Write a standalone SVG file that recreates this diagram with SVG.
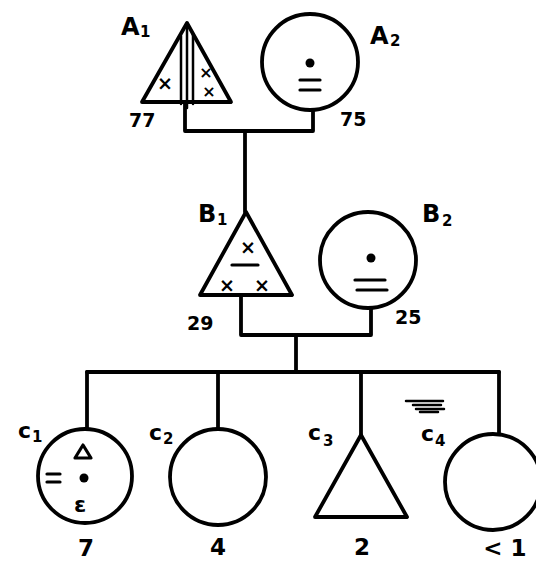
<svg xmlns="http://www.w3.org/2000/svg" width="536" height="562" viewBox="0 0 536 562">
<style>
.s{fill:none;stroke:#000;stroke-width:3.8;stroke-linejoin:round;stroke-linecap:round}
.f{fill:#fff;stroke:#000;stroke-width:3.8;stroke-linejoin:round}
.t{font-family:"DejaVu Sans","Liberation Sans",sans-serif;font-weight:bold;fill:#000}
.lab{font-size:24px}
.sub{font-size:15px}
.num{font-size:19px}
.age{font-size:23px;text-anchor:middle}
.x{font-size:19px;text-anchor:middle}
.xs{font-size:16px;text-anchor:middle}
</style>
<rect width="536" height="562" fill="#fff"/>
<g id="connectors">
<path class="s" d="M185 101 V131 H313 V110"/>
<path class="s" d="M245 131 V212"/>
<path class="s" d="M241 295 V335 H371 V308"/>
<path class="s" d="M296 335 V372"/>
<path class="s" d="M87 372 H499"/>
<path class="s" d="M87 372 V429"/>
<path class="s" d="M218 372 V430"/>
<path class="s" d="M361 372 V435"/>
<path class="s" d="M499 372 V435"/>
</g>
<g id="A1">
<path class="f" d="M187 23 L231 102 L142 102 Z"/>
<path class="s" d="M181 36 V104 M187 24 V108 M193 34 V104" style="stroke-width:2.5"/>
<text class="t x" x="165" y="90">×</text>
<text class="t xs" x="206" y="78">×</text>
<text class="t xs" x="209" y="97">×</text>
<text class="t lab" x="121" y="35">A</text><text class="t sub" x="140" y="37">1</text>
<text class="t num" x="129" y="127">77</text>
</g>
<g id="A2">
<circle class="f" cx="310" cy="62" r="48"/>
<circle cx="310" cy="63" r="4.5"/>
<path class="s" d="M300 80 H320 M300 90 H320" style="stroke-width:3.2"/>
<text class="t lab" x="370" y="44">A</text><text class="t sub" x="390" y="46">2</text>
<text class="t num" x="340" y="126">75</text>
</g>
<g id="B1">
<path class="f" d="M246 212 L292 295 L200 295 Z"/>
<text class="t x" x="248" y="254">×</text>
<path class="s" d="M232 265 H258" style="stroke-width:3.2"/>
<text class="t x" x="227" y="292">×</text>
<text class="t x" x="262" y="292">×</text>
<text class="t lab" x="198" y="222">B</text><text class="t sub" x="217" y="225">1</text>
<text class="t num" x="187" y="330">29</text>
</g>
<g id="B2">
<circle class="f" cx="368" cy="260" r="48"/>
<circle cx="371" cy="258" r="4.5"/>
<path class="s" d="M355 280 H385 M357 290 H387" style="stroke-width:3.2"/>
<text class="t lab" x="422" y="222">B</text><text class="t sub" x="442" y="226">2</text>
<text class="t num" x="395" y="324">25</text>
</g>
<g id="C1">
<circle class="f" cx="85" cy="476" r="47"/>
<path class="s" d="M83 445 L91 458 L75 458 Z" style="stroke-width:3.2"/>
<circle cx="84" cy="478" r="4.5"/>
<path class="s" d="M47 474 H60 M47 482 H60" style="stroke-width:3.2"/>
<text class="t" x="80" y="512" style="font-size:22px;text-anchor:middle">ε</text>
<text class="t" x="18" y="438" style="font-size:22px">c</text><text class="t sub" x="32" y="442">1</text>
<text class="t age" x="86" y="556">7</text>
</g>
<g id="C2">
<circle class="f" cx="218" cy="477" r="48"/>
<text class="t" x="149" y="440" style="font-size:22px">c</text><text class="t sub" x="163" y="444">2</text>
<text class="t age" x="218" y="555">4</text>
</g>
<g id="C3">
<path class="f" d="M361 435 L407 517 L315 517 Z"/>
<text class="t" x="308" y="440" style="font-size:22px">c</text><text class="t sub" x="323" y="446">3</text>
<text class="t age" x="362" y="555">2</text>
</g>
<g id="C4">
<circle class="f" cx="493" cy="482" r="48"/>
<path class="s" d="M406 401 H443 M413 405 H441 M416 409 H444 M420 412 H438" style="stroke-width:2.5"/>
<text class="t" x="421" y="441" style="font-size:22px">c</text><text class="t sub" x="435" y="446">4</text>
<text class="t age" x="505" y="556">&lt; 1</text>
</g>
</svg>
